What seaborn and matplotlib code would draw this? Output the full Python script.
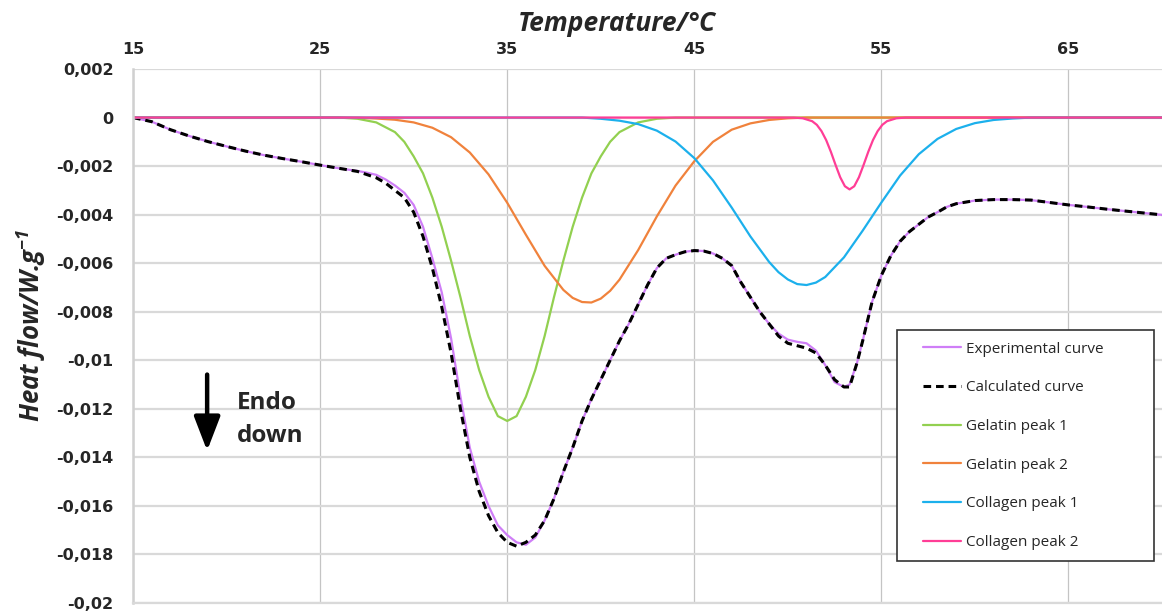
import matplotlib
matplotlib.use("Agg")
import matplotlib.pyplot as plt
from matplotlib.lines import Line2D
from matplotlib.legend_handler import HandlerLine2D
import seaborn as sns

# DSC curves: temperature in °C, heat flow in W/g
temp_exp = [15, 16, 17, 18, 19, 20, 21, 22, 23, 24, 25, 26, 27,
            27.5, 28, 28.5, 29, 29.5, 30, 30.5, 31, 31.5, 32,
            32.5, 33, 33.5, 34, 34.5, 35, 35.5, 36, 36.5, 37,
            37.5, 38, 38.5, 39, 39.5, 40, 40.5, 41, 41.5, 42,
            42.5, 43, 43.5, 44, 44.5, 45, 45.5, 46, 46.5, 47,
            47.5, 48, 48.5, 49, 49.5, 50, 50.5, 51, 51.5, 52,
            52.5, 53, 53.3, 53.7, 54, 54.5, 55, 55.5, 56, 56.5,
            57, 57.5, 58, 58.5, 59, 60, 61, 62, 63, 64, 65, 66, 67, 68, 69, 70]
flow_exp = [0, -0.00017, -0.0005, -0.00076, -0.00099, -0.00119, -0.00138, -0.00155, -0.00169, -0.00182, -0.00196, -0.00209, -0.0022,
            -0.00227, -0.00236, -0.00255, -0.0028, -0.0031, -0.0036, -0.0045, -0.0058, -0.0072, -0.0091,
            -0.0115, -0.0136, -0.015, -0.016, -0.0168, -0.0172, -0.0175, -0.0176, -0.0173, -0.0166,
            -0.0157, -0.0146, -0.0136, -0.0125, -0.0116, -0.0108, -0.01, -0.0092, -0.0085, -0.0077,
            -0.0069, -0.0062, -0.0058, -0.00565, -0.00553, -0.00548, -0.0055, -0.0056, -0.0058, -0.0061,
            -0.0068, -0.0074, -0.008, -0.0085, -0.0089, -0.00915, -0.00924, -0.0093, -0.0096, -0.0102,
            -0.0109, -0.0111, -0.011, -0.0101, -0.0092, -0.0076, -0.0065, -0.0057, -0.0051, -0.0047,
            -0.0044, -0.0041, -0.0039, -0.00368, -0.00355, -0.00342, -0.00338, -0.00338, -0.0034, -0.0035,
            -0.0036, -0.00368, -0.00377, -0.00385, -0.00393, -0.00401]
flow_calc = [0, -0.00017, -0.0005, -0.00076, -0.00099, -0.00119, -0.00138, -0.00155, -0.00169, -0.00182, -0.00196, -0.00209, -0.00222,
             -0.00235, -0.00248, -0.0027, -0.003, -0.0033, -0.0039, -0.0049, -0.0062, -0.0078, -0.0097,
             -0.012, -0.014, -0.0154, -0.0164, -0.0171, -0.0175, -0.01766, -0.0175, -0.0172, -0.0166,
             -0.0157, -0.0146, -0.0136, -0.0125, -0.0116, -0.0108, -0.01, -0.0092, -0.0085, -0.0077,
             -0.0069, -0.0062, -0.0058, -0.00565, -0.00553, -0.00548, -0.0055, -0.0056, -0.0058, -0.0061,
             -0.0068, -0.0074, -0.008, -0.0085, -0.009, -0.0093, -0.0094, -0.0095, -0.0097, -0.0102,
             -0.0108, -0.0111, -0.0111, -0.0101, -0.0092, -0.0076, -0.0065, -0.0057, -0.0051, -0.0047,
             -0.0044, -0.0041, -0.0039, -0.00368, -0.00355, -0.00342, -0.00338, -0.00338, -0.0034, -0.0035,
             -0.0036, -0.00368, -0.00377, -0.00385, -0.00393, -0.00401]

temp_gel1 = [15, 26, 27, 28, 29, 29.5, 30, 30.5, 31, 31.5, 32, 32.5, 33, 33.5, 34, 34.5, 35,
             35.5, 36, 36.5, 37, 37.5, 38, 38.5, 39, 39.5, 40, 40.5, 41, 42, 43, 44, 70]
flow_gel1 = [0, 0, -0.00005, -0.0002, -0.0006, -0.001, -0.0016, -0.0023, -0.0033, -0.0045, -0.0059, -0.0074, -0.009, -0.0104, -0.0115, -0.0123, -0.0125,
             -0.0123, -0.0115, -0.0104, -0.009, -0.0074, -0.0059, -0.0045, -0.0033, -0.0023, -0.0016, -0.001, -0.0006, -0.0002, -0.00005, 0, 0]

temp_gel2 = [15, 26, 27, 28, 29, 30, 31, 32, 33, 34, 35, 36, 37, 38, 38.5, 39, 39.5,
             40, 40.5, 41, 42, 43, 44, 45, 46, 47, 48, 49, 50, 51, 70]
flow_gel2 = [0, 0, -0.00001, -0.00004, -0.00009, -0.0002, -0.00042, -0.00081, -0.00144, -0.00234, -0.00351, -0.00483, -0.00611, -0.0071, -0.00743, -0.0076, -0.00762,
             -0.00746, -0.00714, -0.00668, -0.00546, -0.00407, -0.0028, -0.0018, -0.001, -0.0005, -0.00024, -0.0001, -0.00003, 0, 0]

temp_col1 = [15, 39, 40, 41, 42, 43, 44, 45, 46, 47, 48, 49, 49.5, 50, 50.5, 51, 51.5,
             52, 53, 54, 55, 56, 57, 58, 59, 60, 61, 62, 63, 70]
flow_col1 = [0, 0, -0.00005, -0.00013, -0.00027, -0.00054, -0.00099, -0.00167, -0.00259, -0.00371, -0.0049, -0.00595, -0.00637, -0.00667, -0.00686, -0.0069, -0.0068,
             -0.00657, -0.00576, -0.00466, -0.0035, -0.00239, -0.00151, -0.00088, -0.00047, -0.00023, -0.0001, -0.00004, 0, 0]

temp_col2 = [15, 50.3, 50.8, 51.3, 51.55, 51.8, 52.05, 52.3, 52.55, 52.8, 53.05, 53.3,
             53.55, 53.8, 54.05, 54.3, 54.55, 54.8, 55.05, 55.3, 55.8, 56.3, 70]
flow_col2 = [0, 0, -0.00003, -0.00015, -0.0003, -0.00056, -0.00093, -0.00141, -0.00195, -0.00246, -0.00283, -0.00296,
             -0.00283, -0.00246, -0.00195, -0.00141, -0.00093, -0.00056, -0.0003, -0.00015, -0.00003, 0, 0]

x_ticks = [15, 25, 35, 45, 55, 65]
y_ticks = [0.002, 0, -0.002, -0.004, -0.006, -0.008, -0.01, -0.012, -0.014, -0.016, -0.018, -0.02]
y_labels = ["0,002", "0", "-0,002", "-0,004", "-0,006", "-0,008", "-0,01",
            "-0,012", "-0,014", "-0,016", "-0,018", "-0,02"]

sns.set_style("white")
plt.rcParams["font.family"] = ["Open Sans", "DejaVu Sans"]
plt.rcParams["mathtext.fontset"] = "custom"
plt.rcParams["mathtext.rm"] = "Open Sans:bold:italic"
plt.rcParams["mathtext.it"] = "Open Sans:bold:italic"
plt.rcParams["mathtext.default"] = "rm"

fig = plt.figure(figsize=(11.62, 6.15), dpi=100)
ax = fig.add_axes([0.1145, 0.0195, 0.8855, 0.8683])

sns.lineplot(x=temp_exp, y=flow_exp, ax=ax, color="#cf7ef7", linewidth=1.6, label="Experimental curve")
sns.lineplot(x=temp_exp, y=flow_calc, ax=ax, color="black", linewidth=2.2,
             linestyle=(0, (2.5, 1.6)), label="Calculated curve")
sns.lineplot(x=temp_gel1, y=flow_gel1, ax=ax, color="#92d050", linewidth=1.6, label="Gelatin peak 1")
sns.lineplot(x=temp_gel2, y=flow_gel2, ax=ax, color="#f0823c", linewidth=1.6, label="Gelatin peak 2")
sns.lineplot(x=temp_col1, y=flow_col1, ax=ax, color="#1cb0ec", linewidth=1.6, label="Collagen peak 1")
sns.lineplot(x=temp_col2, y=flow_col2, ax=ax, color="#ff3d96", linewidth=1.6, label="Collagen peak 2")

ax.set_xlim(15, 70)
ax.set_ylim(-0.02, 0.002)
ax.set_xticks(x_ticks)
ax.set_xticklabels([str(t) for t in x_ticks], fontfamily="DejaVu Sans", fontweight="bold", fontsize=11.5)
ax.set_yticks(y_ticks)
ax.set_yticklabels(y_labels, fontfamily="DejaVu Sans", fontweight="bold", fontsize=11.5)
ax.xaxis.tick_top()
ax.tick_params(axis="x", length=0, pad=9)
ax.tick_params(axis="y", length=0, pad=14)

ax.set_axisbelow(True)
ax.yaxis.grid(True, color="#d9d9d9", linewidth=1.6)
ax.xaxis.grid(True, color="#c4c4c4", linewidth=0.9)
for side in ["top", "right"]:
    ax.spines[side].set_visible(False)
ax.spines["left"].set_color("#d0d0d0")
ax.spines["left"].set_linewidth(1.8)
ax.spines["bottom"].set_color("#d9d9d9")
ax.spines["bottom"].set_linewidth(1.6)

ax.set_xlabel("Temperature/°C", fontsize=19, fontweight="bold", fontstyle="italic")
ax.xaxis.set_label_position("top")
ax.xaxis.set_label_coords(0.47, 1.072)
ax.set_ylabel("Heat flow/W.g$^{-1}$", fontsize=18.5, fontweight="bold", fontstyle="italic")
ax.yaxis.set_label_coords(-0.083, 0.52)

# endothermic direction marker
ax.annotate("", xy=(0.072, 0.28), xytext=(0.072, 0.433), xycoords="axes fraction",
            arrowprops=dict(arrowstyle="-|>,head_length=1.3,head_width=0.5",
                            lw=3.2, color="black", mutation_scale=16))
ax.text(0.101, 0.343, "Endo\ndown", transform=ax.transAxes, fontsize=17.5,
        fontweight="bold", va="center", ha="left", linespacing=1.5)

leg = ax.legend(loc="upper left", bbox_to_anchor=(0.742, 0.0655, 0.25, 0.4455), mode="expand",
                borderaxespad=0, frameon=True, fancybox=False, edgecolor="#333333",
                framealpha=1, fontsize=11, labelspacing=1.55, handlelength=3.45,
                handletextpad=0.35, borderpad=0.75,
                handler_map={Line2D: HandlerLine2D(xpad=0.95)})
leg.get_frame().set_linewidth(1.2)
for t in leg.get_texts():
    t.set_color("#262626")

fig.savefig("out.png", dpi=100)
